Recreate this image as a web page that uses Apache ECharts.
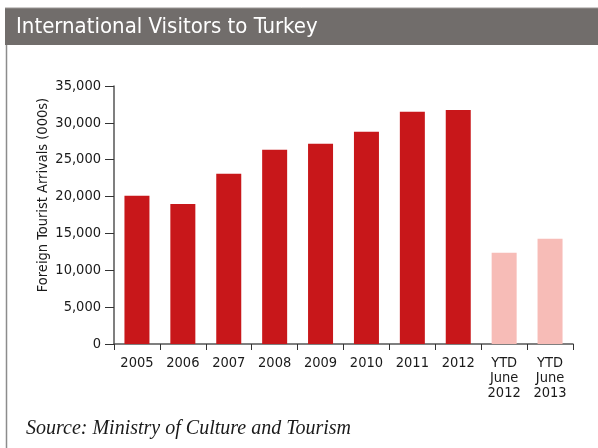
<!DOCTYPE html>
<html>
<head>
<meta charset="utf-8">
<script src="https://cdn.jsdelivr.net/npm/echarts@6/dist/echarts.min.js"></script>
<style>
  html, body { margin: 0; padding: 0; background: #fff; }
  #chart { width: 598px; height: 448px; }
</style>
</head>
<body>
<div id="chart"></div>
<script>
// Foreign tourist arrivals to Turkey, thousands
const categories = ['2005', '2006', '2007', '2008', '2009', '2010', '2011', '2012', 'YTD\nJune\n2012', 'YTD\nJune\n2013'];
const arrivals = [20100, 19000, 23100, 26340, 27150, 28780, 31490, 31760, 12380, 14280];
const isYearToDate = [false, false, false, false, false, false, false, false, true, true];
const yTicks = [0, 5000, 10000, 15000, 20000, 25000, 30000, 35000];

const FULL_YEAR = '#c8171a';
const PARTIAL_YEAR = '#f7bcb7';
const NARROW = '"Liberation Sans Narrow", "DejaVu Sans Condensed", "Roboto Condensed", Arial, sans-serif';

const chart = echarts.init(document.getElementById('chart'), null, { renderer: 'canvas' });

chart.setOption({
  animation: false,
  backgroundColor: '#ffffff',
  grid: { left: 114, right: 25, top: 86, bottom: 104, containLabel: false },
  graphic: [
    // header band
    { type: 'rect', shape: { x: 5, y: 8, width: 593, height: 37 }, style: { fill: '#716d6b' }, silent: true },
    { type: 'line', shape: { x1: 5, y1: 8, x2: 598, y2: 8 }, style: { stroke: '#9a9694', lineWidth: 1 }, silent: true },
    // left frame line
    { type: 'line', shape: { x1: 6.5, y1: 45, x2: 6.5, y2: 448 }, style: { stroke: '#8c8c8c', lineWidth: 1.5 }, silent: true },
    { type: 'text', left: 16, top: 16, style: { text: 'International Visitors to Turkey', fill: '#ffffff', font: '22px ' + NARROW } },
    // y-axis title
    { type: 'text', x: 43, y: 195, rotation: Math.PI / 2, style: { text: 'Foreign Tourist Arrivals (000s)', fill: '#1a1a1a', font: '14.5px ' + NARROW, align: 'center', verticalAlign: 'middle' } },
    // source note
    { type: 'text', left: 26, top: 419, style: { text: 'Source: Ministry of Culture and Tourism', fill: '#1a1a1a', font: 'italic 20px "Liberation Serif", "Times New Roman", serif' } }
  ],
  xAxis: {
    type: 'category',
    data: categories,
    boundaryGap: true,
    axisLine: { show: true, lineStyle: { color: '#555555', width: 1.5 } },
    axisTick: { show: true, alignWithLabel: false, length: 6, lineStyle: { color: '#333333', width: 1 } },
    axisLabel: { color: '#1a1a1a', fontSize: 14.5, fontFamily: NARROW, lineHeight: 15, margin: 12, interval: 0 }
  },
  yAxis: {
    type: 'value',
    min: 0,
    max: yTicks[yTicks.length - 1],
    interval: yTicks[1] - yTicks[0],
    axisLine: { show: true, lineStyle: { color: '#555555', width: 1.5 } },
    axisTick: { show: true, length: 9, lineStyle: { color: '#333333', width: 1 } },
    splitLine: { show: false },
    axisLabel: {
      color: '#1a1a1a', fontSize: 14.5, fontFamily: NARROW, margin: 13,
      formatter: v => v.toLocaleString('en-US')
    }
  },
  series: [{
    type: 'bar',
    barWidth: 25,
    data: arrivals.map((v, i) => ({
      value: v,
      itemStyle: { color: isYearToDate[i] ? PARTIAL_YEAR : FULL_YEAR }
    }))
  }]
});
</script>
</body>
</html>
